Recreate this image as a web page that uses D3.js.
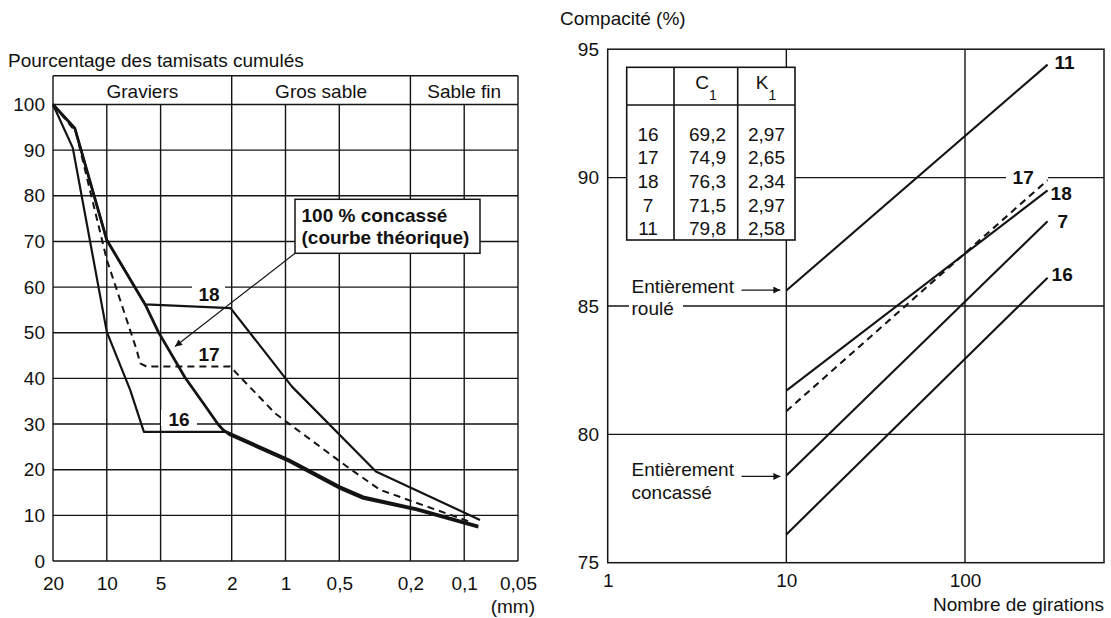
<!DOCTYPE html>
<html>
<head>
<meta charset="utf-8">
<script src="https://cdn.jsdelivr.net/npm/d3@7"></script>
<style>
  body { margin: 0; background: #fff; }
  svg { display: block; }
  text { font-family: "Liberation Sans", Arial, Helvetica, sans-serif; fill: #111; }
</style>
</head>
<body>
<svg id="chart" width="1111" height="618"></svg>
<script>
// ---------- Grading curves (left panel) ----------
const sieveTicks = [20, 10, 5, 2, 1, 0.5, 0.2, 0.1, 0.05];
const sieveTickLabels = ["20", "10", "5", "2", "1", "0,5", "0,2", "0,1", "0,05"];
const passingTicks = [0, 10, 20, 30, 40, 50, 60, 70, 80, 90, 100];

const bandNames = ["Graviers", "Gros sable", "Sable fin"];
const bandFrom = [20, 2, 0.2];
const bandTo = [2, 0.2, 0.05];

// sieve opening (mm) / cumulative passing (%)
const theoSize = [20, 15.1, 10, 6.1, 5.15, 3.65, 2.89, 2.39, 2.23, 2.04, 0.95, 0.495, 0.367, 0.184, 0.0834];
const theoPass = [100, 94.8, 70.3, 56.2, 50.2, 40.2, 34.6, 30, 28.7, 27.6, 21.8, 15.9, 13.7, 11.2, 7.4];

const mix16Size = [20, 15.5, 12.4, 10, 7.4, 6.2, 2.13, 0.95, 0.495, 0.367, 0.184, 0.0834];
const mix16Pass = [100, 90.5, 70, 50.2, 37.5, 28.3, 28.3, 22.2, 16.3, 14.1, 11.5, 7.7];

const mix17Size = [20, 14.9, 10, 6.8, 6.5, 6.0, 2.04, 1.14, 0.454, 0.296, 0.193, 0.0928];
const mix17Pass = [100, 94, 66, 46.2, 43.3, 42.6, 42.6, 32.3, 20.7, 15.6, 13.0, 8.6];

const mix18Size = [20, 15.1, 10, 6.1, 2.03, 0.92, 0.312, 0.0816];
const mix18Pass = [100, 94.8, 70.3, 56.2, 55.4, 38.2, 19.6, 9.0];

// ---------- Gyratory compaction (right panel) ----------
const girationTicks = [1, 10, 100];
const compactTicks = [75, 80, 85, 90, 95];
const mixNames = ["16", "17", "18", "7", "11"];
const mixC1 = [69.2, 74.9, 76.3, 71.5, 79.8];
const mixK1 = [2.97, 2.65, 2.34, 2.97, 2.58];
const girationsFrom = [10, 10, 10, 10, 10];
const girationsTo = [290, 290, 290, 290, 290];
const compactFrom = [76.1, 80.9, 81.7, 78.4, 85.6];
const compactTo = [86.1, 89.9, 89.5, 88.3, 94.4];
const mixDashed = [false, true, false, false, false];

const frFmt = d3.formatLocale({ decimal: ",", thousands: " ", grouping: [3], currency: ["", " €"] });
const f1 = frFmt.format(".1f"), f2 = frFmt.format(".2f");

const svg = d3.select("#chart");
const INK = "#141414";
const FS = 19;

const defs = svg.append("defs");
defs.append("marker")
  .attr("id", "head").attr("viewBox", "0 0 10 10")
  .attr("refX", 10).attr("refY", 5)
  .attr("markerWidth", 11).attr("markerHeight", 7)
  .attr("markerUnits", "userSpaceOnUse").attr("orient", "auto")
  .append("path").attr("d", "M0,0L10,5L0,10z").attr("fill", INK);

// ===== Left panel =====
const xL = d3.scaleLog().domain([20, 0.05]).range([53, 518]);
const yL = d3.scaleLinear().domain([0, 100]).range([561, 104.5]);
const bandTop = 75.7;
const L = svg.append("g");

L.append("text").attr("x", 8).attr("y", 67).attr("font-size", FS)
  .text("Pourcentage des tamisats cumulés");

// horizontal grid
L.append("g").selectAll("line").data(passingTicks).join("line")
  .attr("x1", xL(20)).attr("x2", xL(0.05))
  .attr("y1", d => yL(d)).attr("y2", d => yL(d))
  .attr("stroke", INK).attr("stroke-width", 1.4);
// vertical grid
L.append("g").selectAll("line").data(sieveTicks).join("line")
  .attr("x1", d => xL(d)).attr("x2", d => xL(d))
  .attr("y1", yL(100)).attr("y2", yL(0))
  .attr("stroke", INK).attr("stroke-width", 1.4);
// fraction bands header
L.append("g").selectAll("line").data(bandFrom).join("line")
  .attr("x1", d => xL(d)).attr("x2", d => xL(d))
  .attr("y1", bandTop).attr("y2", yL(100))
  .attr("stroke", INK).attr("stroke-width", 1.4);
L.append("line").attr("x1", xL(20)).attr("x2", xL(0.05))
  .attr("y1", bandTop).attr("y2", bandTop).attr("stroke", INK).attr("stroke-width", 1.4);
L.append("line").attr("x1", xL(0.05)).attr("x2", xL(0.05))
  .attr("y1", bandTop).attr("y2", yL(100)).attr("stroke", INK).attr("stroke-width", 1.4);
L.append("g").selectAll("text").data(bandNames).join("text")
  .attr("x", (d, i) => Math.sqrt(xL(bandFrom[i]) * 0 + 1) * (xL(bandFrom[i]) + xL(bandTo[i])) / 2)
  .attr("y", 98).attr("text-anchor", "middle").attr("font-size", FS)
  .text(d => d);

// axes
const axL = L.append("g").attr("transform", `translate(${xL(20)},0)`)
  .call(d3.axisLeft(yL).tickValues(passingTicks).tickSize(0).tickPadding(8));
const axB = L.append("g").attr("transform", `translate(0,${yL(0)})`)
  .call(d3.axisBottom(xL).tickValues(sieveTicks).tickSize(0).tickPadding(15.5)
    .tickFormat((d, i) => sieveTickLabels[i]));
[axL, axB].forEach(a => {
  a.select(".domain").remove();
  a.selectAll("text").attr("font-size", FS).attr("fill", INK)
    .attr("font-family", '"Liberation Sans", Arial, sans-serif');
});
L.append("text").attr("x", 535).attr("y", 613).attr("text-anchor", "end")
  .attr("font-size", FS).text("(mm)");

// label backgrounds over grid
L.append("rect").attr("x", 192).attr("y", yL(60) - 3).attr("width", 33).attr("height", 18).attr("fill", "#fff");
L.append("rect").attr("x", 161).attr("y", yL(30) - 14).attr("width", 36).attr("height", 16).attr("fill", "#fff");

const lineL = d3.line().x(d => xL(d[0])).y(d => yL(d[1]));
L.append("path").attr("d", lineL(d3.zip(mix16Size, mix16Pass)))
  .attr("fill", "none").attr("stroke", INK).attr("stroke-width", 2.2).attr("stroke-linejoin", "round");
L.append("path").attr("d", lineL(d3.zip(mix18Size, mix18Pass)))
  .attr("fill", "none").attr("stroke", INK).attr("stroke-width", 2.2).attr("stroke-linejoin", "round");
L.append("path").attr("d", lineL(d3.zip(theoSize, theoPass)))
  .attr("fill", "none").attr("stroke", INK).attr("stroke-width", 2.8).attr("stroke-linejoin", "round");
L.append("path").attr("d", lineL(d3.zip(mix17Size, mix17Pass)))
  .attr("fill", "none").attr("stroke", INK).attr("stroke-width", 2).attr("stroke-dasharray", "7,5");

L.append("text").attr("x", 209).attr("y", yL(60) + 14).attr("text-anchor", "middle")
  .attr("font-size", FS).attr("font-weight", "bold").text("18");
L.append("text").attr("x", 209).attr("y", 360.5).attr("text-anchor", "middle")
  .attr("font-size", FS).attr("font-weight", "bold").text("17");
L.append("text").attr("x", 179).attr("y", yL(30) + 2).attr("text-anchor", "middle")
  .attr("font-size", FS).attr("font-weight", "bold").text("16");

// annotation for the theoretical curve
L.append("line").attr("x1", 295).attr("y1", 253.3)
  .attr("x2", xL(4.15)).attr("y2", yL(47))
  .attr("stroke", INK).attr("stroke-width", 1.2).attr("marker-end", "url(#head)");
L.append("rect").attr("x", 295).attr("y", 199.3).attr("width", 185).attr("height", 54)
  .attr("fill", "#fff").attr("stroke", INK).attr("stroke-width", 1.5);
L.append("text").attr("x", 301.5).attr("y", 221.5).attr("font-size", FS).attr("font-weight", "bold")
  .text("100 % concassé");
L.append("text").attr("x", 301.5).attr("y", 243.5).attr("font-size", FS).attr("font-weight", "bold")
  .text("(courbe théorique)");

// ===== Right panel =====
const xR = d3.scaleLog().domain([1, 600]).range([607.7, 1104]);
const yR = d3.scaleLinear().domain([75, 95]).range([562.7, 49.2]);
const R = svg.append("g");

R.append("text").attr("x", 560).attr("y", 25).attr("font-size", FS).text("Compacité (%)");

R.append("g").selectAll("line").data(compactTicks.slice(1, -1)).join("line")
  .attr("x1", xR(1)).attr("x2", xR(600))
  .attr("y1", d => yR(d)).attr("y2", d => yR(d))
  .attr("stroke", INK).attr("stroke-width", 1.4);
R.append("g").selectAll("line").data(girationTicks.slice(1)).join("line")
  .attr("x1", d => xR(d)).attr("x2", d => xR(d))
  .attr("y1", yR(95)).attr("y2", yR(75))
  .attr("stroke", INK).attr("stroke-width", 1.4);
R.append("rect").attr("x", xR(1)).attr("y", yR(95))
  .attr("width", xR(600) - xR(1)).attr("height", yR(75) - yR(95))
  .attr("fill", "none").attr("stroke", INK).attr("stroke-width", 1.5);

const axRL = R.append("g").attr("transform", `translate(${xR(1)},0)`)
  .call(d3.axisLeft(yR).tickValues(compactTicks).tickSize(0).tickPadding(8.7));
const axRB = R.append("g").attr("transform", `translate(0,${yR(75)})`)
  .call(d3.axisBottom(xR).tickValues(girationTicks).tickSize(0).tickPadding(10.5)
    .tickFormat(d3.format("d")));
[axRL, axRB].forEach(a => {
  a.select(".domain").remove();
  a.selectAll("text").attr("font-size", FS).attr("fill", INK)
    .attr("font-family", '"Liberation Sans", Arial, sans-serif');
});
R.append("text").attr("x", 1104).attr("y", 611).attr("text-anchor", "end")
  .attr("font-size", FS).text("Nombre de girations");

// backgrounds that interrupt the grid
R.append("rect").attr("x", 1006).attr("y", yR(90) - 8).attr("width", 42).attr("height", 16).attr("fill", "#fff");
R.append("rect").attr("x", 629).attr("y", yR(85) - 5).attr("width", 54).attr("height", 10).attr("fill", "#fff");

// table of coefficients
const tb = { x0: 626.7, x1: 674, x2: 737.7, x3: 795, y0: 67.3, yh: 105, y1: 240 };
R.append("rect").attr("x", tb.x0).attr("y", tb.y0).attr("width", tb.x3 - tb.x0).attr("height", tb.y1 - tb.y0)
  .attr("fill", "#fff").attr("stroke", INK).attr("stroke-width", 1.6);
R.append("line").attr("x1", tb.x0).attr("x2", tb.x3).attr("y1", tb.yh).attr("y2", tb.yh)
  .attr("stroke", INK).attr("stroke-width", 1.6);
[tb.x1, tb.x2].forEach(x => R.append("line").attr("x1", x).attr("x2", x)
  .attr("y1", tb.y0).attr("y2", tb.y1).attr("stroke", INK).attr("stroke-width", 1.6));
const hdr = [["C", 706], ["K", 766]];
hdr.forEach(([s, cx]) => {
  const t = R.append("text").attr("x", cx).attr("y", 88.5).attr("text-anchor", "middle").attr("font-size", FS);
  t.append("tspan").text(s);
  t.append("tspan").attr("font-size", 14).attr("dy", 11).text("1");
});
const rows = R.append("g").selectAll("g").data(mixNames).join("g")
  .attr("transform", (d, i) => `translate(0,${140.7 + i * 23.6})`);
rows.append("text").attr("x", 648).attr("text-anchor", "middle").attr("font-size", FS).text(d => d);
rows.append("text").attr("x", 707.5).attr("text-anchor", "middle").attr("font-size", FS).text((d, i) => f1(mixC1[i]));
rows.append("text").attr("x", 766.5).attr("text-anchor", "middle").attr("font-size", FS).text((d, i) => f2(mixK1[i]));

// compaction lines
const lineR = d3.line().x(d => xR(d[0])).y(d => yR(d[1]));
mixNames.forEach((name, i) => {
  R.append("path")
    .attr("d", lineR([[girationsFrom[i], compactFrom[i]], [girationsTo[i], compactTo[i]]]))
    .attr("fill", "none").attr("stroke", INK).attr("stroke-width", 2.1)
    .attr("stroke-dasharray", mixDashed[i] ? "7,5" : null);
});
const labelOffset = { "16": [4, 3], "17": [-35, 3.5], "18": [3, 10], "7": [10, 7], "11": [7, 4] };
mixNames.forEach((name, i) => {
  const [dx, dy] = labelOffset[name];
  R.append("text").attr("x", xR(girationsTo[i]) + dx).attr("y", yR(compactTo[i]) + dy)
    .attr("font-size", FS).attr("font-weight", "bold").text(name);
});

// annotations on the 10-gyration axis
R.append("text").attr("x", 631.5).attr("y", 292.7).attr("font-size", FS).text("Entièrement");
R.append("text").attr("x", 631.5).attr("y", 315).attr("font-size", FS).text("roulé");
R.append("text").attr("x", 631.5).attr("y", 476).attr("font-size", FS).text("Entièrement");
R.append("text").attr("x", 631.5).attr("y", 499.3).attr("font-size", FS).text("concassé");
R.append("line").attr("x1", 741.5).attr("x2", xR(10) - 6).attr("y1", yR(compactFrom[4]) - 0.5).attr("y2", yR(compactFrom[4]) - 0.5)
  .attr("stroke", INK).attr("stroke-width", 1.2).attr("marker-end", "url(#head)");
R.append("line").attr("x1", 741.5).attr("x2", xR(10) - 6).attr("y1", yR(compactFrom[3]) + 1).attr("y2", yR(compactFrom[3]) + 1)
  .attr("stroke", INK).attr("stroke-width", 1.2).attr("marker-end", "url(#head)");
</script>
</body>
</html>
